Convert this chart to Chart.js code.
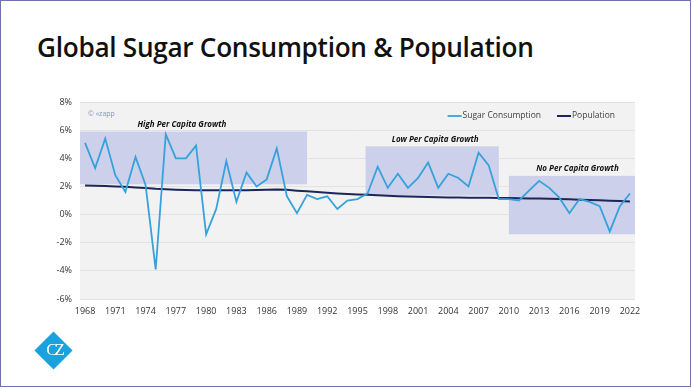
<!DOCTYPE html>
<html>
<head>
<meta charset="utf-8">
<script src="https://cdn.jsdelivr.net/npm/chart.js@4.4.1/dist/chart.umd.min.js"></script>
<style>
  html, body { margin:0; padding:0; background:#fff; }
  body { width:692px; height:389px; position:relative; overflow:hidden; font-family:"Open Sans", sans-serif; }
  #frame { position:absolute; left:0; top:0; width:689px; height:385px; border:1.5px solid #6e72a8; }
  #title { position:absolute; left:37px; top:29px; font-size:26.2px; font-weight:600; color:#111; letter-spacing:-0.3px; white-space:nowrap; }
  #wrap { position:absolute; left:0; top:0; width:692px; height:389px; }
  #logo { position:absolute; left:40px; top:337px; width:27px; height:27px; background:#1ba1dc; transform:rotate(45deg); }
  #logoTxt { position:absolute; left:35px; top:340px; width:38px; text-align:center; color:#fff; font-family:"Liberation Serif", serif; font-size:17px; letter-spacing:-3px; }
</style>
</head>
<body>
<div id="frame"></div>
<div id="title">Global Sugar Consumption &amp; Population</div>
<div id="wrap"><canvas id="c"></canvas></div>
<div id="logo"></div>
<div id="logoTxt">CZ</div>
<script>
// categories
const years = ['1968','1969','1970','1971','1972','1973','1974','1975','1976','1977',
  '1978','1979','1980','1981','1982','1983','1984','1985','1986','1987',
  '1988','1989','1990','1991','1992','1993','1994','1995','1996','1997',
  '1998','1999','2000','2001','2002','2003','2004','2005','2006','2007',
  '2008','2009','2010','2011','2012','2013','2014','2015','2016','2017',
  '2018','2019','2020','2021','2022'];

// annual growth, %
const sugarConsumption = [5.1,3.3,5.4,2.8,1.6,4.1,2.1,-3.9,5.7,4.0,
  4.0,4.9,-1.4,0.4,3.8,0.9,3.0,2.0,2.5,4.7,
  1.3,0.1,1.4,1.1,1.3,0.4,1.0,1.1,1.5,3.4,
  1.9,2.9,1.9,2.6,3.7,1.9,2.9,2.6,2.0,4.4,
  3.5,1.1,1.1,1.0,1.7,2.4,1.9,1.2,0.1,1.1,
  0.9,0.6,-1.2,0.6,1.5];
const population = [2.07,2.05,2.03,2.0,1.97,1.93,1.88,1.83,1.8,1.77,
  1.75,1.73,1.72,1.72,1.72,1.72,1.73,1.75,1.77,1.78,
  1.76,1.7,1.65,1.6,1.55,1.5,1.46,1.43,1.4,1.37,
  1.34,1.31,1.28,1.26,1.24,1.23,1.22,1.21,1.2,1.2,
  1.19,1.18,1.17,1.16,1.15,1.14,1.12,1.1,1.08,1.06,
  1.04,1.02,0.99,0.96,0.93];

// shaded periods (year span, % span)
const zoneNames = ['High Per Capita Growth','Low Per Capita Growth','No Per Capita Growth'];
const zoneFrom  = [1967.5, 1995.8, 2010];
const zoneTo    = [1990, 2009, 2022.5];
const zoneLow   = [2.15, 1.35, -1.4];
const zoneHigh  = [5.9, 4.85, 2.75];
const zoneLabelAt = [1977.6, 2002.7, 2016.8];

const yTicks = [8,6,4,2,0,-2,-4,-6];

function yearPx(x, yr){
  const p0 = x.getPixelForValue(0), p1 = x.getPixelForValue(1);
  return p0 + (yr - Number(years[0])) * (p1 - p0);
}

const zonePlugin = {
  id:'zones',
  beforeDraw(chart){
    const {ctx, chartArea:a} = chart;
    ctx.save();
    ctx.fillStyle = '#f2f2f2';
    ctx.fillRect(a.left, a.top, a.right-a.left, a.bottom-a.top);
    ctx.restore();
  },
  beforeDatasetsDraw(chart){
    const {ctx, scales:{x,y}} = chart;
    ctx.save();
    ctx.fillStyle = '#ccd0eb';
    zoneNames.forEach((n,i)=>{
      const l = yearPx(x, zoneFrom[i]), r = yearPx(x, zoneTo[i]);
      const t = y.getPixelForValue(zoneHigh[i]), b = y.getPixelForValue(zoneLow[i]);
      ctx.fillRect(l, t, r-l, b-t);
    });
    ctx.restore();
  },
  afterDatasetsDraw(chart){
    const {ctx, chartArea:a, scales:{x,y}} = chart;
    ctx.save();
    ctx.fillStyle = '#111';
    ctx.font = 'italic bold 8px "Open Sans"';
    ctx.textAlign = 'center';
    ctx.textBaseline = 'middle';
    zoneNames.forEach((n,i)=>{
      ctx.fillText(n, yearPx(x, zoneLabelAt[i]), y.getPixelForValue(zoneHigh[i]) - 7);
    });
    ctx.fillStyle = '#8296c4';
    ctx.font = '7px "Open Sans"';
    ctx.textAlign = 'left';
    ctx.fillText('\u00a9 \u00abzapp', a.left + 8, a.top + 12);

    // legend, top right inside the plot
    ctx.font = '8.5px "Open Sans"';
    ctx.textAlign = 'left';
    let xr = a.right - 20;
    const ly = a.top + 14;
    const ds = chart.data.datasets.slice().reverse();
    ds.forEach((d, k)=>{
      const w = ctx.measureText(d.label).width;
      const tx = xr - w;
      ctx.fillStyle = '#404040';
      ctx.fillText(d.label, tx, ly);
      ctx.strokeStyle = d.borderColor;
      ctx.lineWidth = d.borderWidth;
      ctx.beginPath();
      ctx.moveTo(tx - 15, ly);
      ctx.lineTo(tx - 1, ly);
      ctx.stroke();
      xr = tx - 15 - 16;
    });
    ctx.restore();
  }
};

new Chart(document.getElementById('c'), {
  type:'line',
  data:{
    labels: years,
    datasets:[
      { label:'Sugar Consumption', data:sugarConsumption, borderColor:'#35a2dc', backgroundColor:'#35a2dc',
        borderWidth:1.8, pointRadius:0, tension:0 },
      { label:'Population', data:population, borderColor:'#1d2658', backgroundColor:'#1d2658',
        borderWidth:2, pointRadius:0, tension:0 }
    ]
  },
  options:{
    responsive:true, maintainAspectRatio:false, animation:false,
    layout:{ padding:{ left:40, right:57, top:102, bottom:70 } },
    plugins:{
      legend:{ display:false },
      tooltip:{ enabled:false }
    },
    scales:{
      x:{
        offset:true,
        grid:{ display:false, drawTicks:false },
        border:{ display:false },
        afterFit(s){ s.height = 20; },
        ticks:{ autoSkip:false, maxRotation:0, padding:7, color:'#333',
          font:{ family:'"Open Sans"', size:9 },
          callback(v, i){ return i % 3 === 0 ? years[i] : ''; } }
      },
      y:{
        min:-6, max:8,
        afterFit(s){ s.width = 40; },
        afterBuildTicks(s){ s.ticks = yTicks.map(v=>({value:v})); },
        grid:{ color:'#e2e2e2', drawTicks:false },
        border:{ display:false },
        ticks:{ padding:8, color:'#333', font:{ family:'"Open Sans"', size:9 },
          callback(v){ return v + '%'; } }
      }
    }
  },
  plugins:[zonePlugin]
});
</script>
</body>
</html>
